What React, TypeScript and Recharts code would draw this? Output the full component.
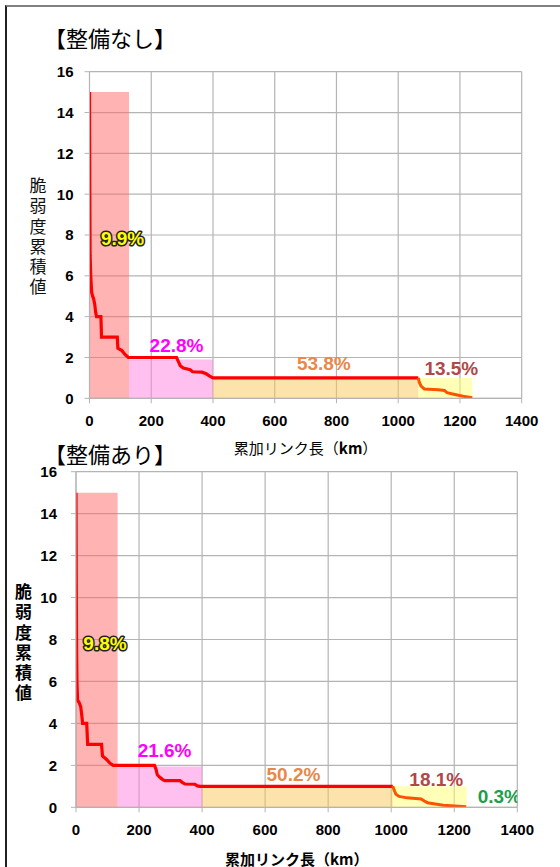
import {
  CartesianGrid,
  ComposedChart,
  Line,
  ReferenceArea,
  Scatter,
  XAxis,
  YAxis,
} from "recharts";

const xTicks = [0, 200, 400, 600, 800, 1000, 1200, 1400];
const yTicks = [0, 2, 4, 6, 8, 10, 12, 14, 16];

// 整備なし
const beforeMain = [
  { x: 0, y: 15 }, { x: 1, y: 10 }, { x: 2, y: 7 }, { x: 4, y: 6 },
  { x: 7, y: 5.2 }, { x: 10, y: 5 }, { x: 13, y: 4.9 }, { x: 17, y: 4.6 },
  { x: 20, y: 4.2 }, { x: 23, y: 4 }, { x: 37, y: 4 }, { x: 39, y: 3 },
  { x: 90, y: 3 }, { x: 92, y: 2.45 }, { x: 104, y: 2.35 }, { x: 115, y: 2.15 },
  { x: 126, y: 2 }, { x: 282, y: 2 }, { x: 288, y: 1.8 }, { x: 294, y: 1.6 },
  { x: 304, y: 1.48 }, { x: 326, y: 1.4 }, { x: 334, y: 1.3 }, { x: 364, y: 1.28 },
  { x: 378, y: 1.2 }, { x: 388, y: 1.1 }, { x: 400, y: 1 }, { x: 1065, y: 1 },
];
const beforeTail = [
  { x: 1065, y: 1 }, { x: 1068, y: 0.8 }, { x: 1074, y: 0.6 }, { x: 1085, y: 0.45 },
  { x: 1130, y: 0.42 }, { x: 1150, y: 0.38 }, { x: 1158, y: 0.28 }, { x: 1180, y: 0.2 },
  { x: 1210, y: 0.1 }, { x: 1240, y: 0.03 },
];
const beforeBands = [
  { x1: 0, x2: 128, y: 15 },
  { x1: 128, x2: 400, y: 1.9 },
  { x1: 400, x2: 1065, y: 1 },
  { x1: 1065, x2: 1240, y: 1 },
];
const beforeLabels = [
  { x: 107, y: 7.85, text: "9.9%" },
  { x: 282, y: 2.58, text: "22.8%" },
  { x: 759, y: 1.71, text: "53.8%" },
  { x: 1172, y: 1.47, text: "13.5%" },
];

// 整備あり
const afterMain = [
  { x: 0, y: 15 }, { x: 1, y: 10 }, { x: 2, y: 7.5 }, { x: 3, y: 6 },
  { x: 5, y: 5.1 }, { x: 10, y: 5 }, { x: 15, y: 4.8 }, { x: 19, y: 4.3 },
  { x: 21, y: 4 }, { x: 34, y: 4 }, { x: 37, y: 3 }, { x: 81, y: 3 },
  { x: 84, y: 2.45 }, { x: 97, y: 2.28 }, { x: 108, y: 2.1 }, { x: 118, y: 2 },
  { x: 249, y: 2 }, { x: 254, y: 1.8 }, { x: 258, y: 1.55 }, { x: 266, y: 1.43 },
  { x: 275, y: 1.32 }, { x: 282, y: 1.27 }, { x: 330, y: 1.27 }, { x: 338, y: 1.18 },
  { x: 346, y: 1.11 }, { x: 377, y: 1.1 }, { x: 385, y: 1.02 }, { x: 393, y: 1 },
  { x: 1005, y: 1 },
];
const afterTail = [
  { x: 1005, y: 1 }, { x: 1010, y: 0.8 }, { x: 1015, y: 0.62 }, { x: 1025, y: 0.52 },
  { x: 1050, y: 0.45 }, { x: 1095, y: 0.4 }, { x: 1105, y: 0.3 }, { x: 1115, y: 0.22 },
  { x: 1165, y: 0.1 }, { x: 1238, y: 0.03 },
];
const afterBands = [
  { x1: 0, x2: 132, y: 15 },
  { x1: 132, x2: 400, y: 1.95 },
  { x1: 400, x2: 1005, y: 1 },
  { x1: 1005, x2: 1240, y: 1 },
];
const afterLabels = [
  { x: 92, y: 7.79, text: "9.8%" },
  { x: 281, y: 2.73, text: "21.6%" },
  { x: 690, y: 1.54, text: "50.2%" },
  { x: 1143, y: 1.31, text: "18.1%" },
  { x: 1343, y: 0.5, text: "0.3%" },
];

const bandColors = ["#ff6868", "#ff80e0", "#fac858", "#ffff70"];
const labelColors = ["#ffff00", "#ff00ff", "#e8884a", "#b04848", "#1e9e4a"];
const gridColor = "#b4b4b4";
const tickFont = {
  fill: "#000",
  fontSize: 15,
  fontWeight: 700,
  fontFamily: "Liberation Sans",
};
const jp = "'Noto Sans CJK JP'";

function PercentLabel(props: any) {
  const { cx, cy, payload } = props;
  const first = payload.i === 0;
  return (
    <text
      x={cx}
      y={cy}
      textAnchor="middle"
      dominantBaseline="central"
      fontFamily="Liberation Sans"
      fontWeight={700}
      fontSize={19}
      fill={labelColors[payload.i]}
      stroke={first ? "#222" : "none"}
      strokeWidth={first ? 3 : 0}
      strokeLinejoin="round"
      paintOrder="stroke"
    >
      {payload.text}
    </text>
  );
}

function Panel({ top, height, margin, main, tail, bands, labels, tickMarginY }: any) {
  return (
    <div style={{ position: "absolute", left: 0, top, width: 560, height }}>
      <ComposedChart width={560} height={height} margin={margin}>
        <CartesianGrid stroke={gridColor} strokeWidth={1.2} />
        <XAxis
          type="number"
          dataKey="x"
          domain={[0, 1400]}
          ticks={xTicks}
          interval={0}
          allowDataOverflow
          height={30}
          tick={tickFont}
          tickSize={5}
          tickMargin={12}
          tickLine={{ stroke: gridColor }}
          axisLine={{ stroke: gridColor }}
        />
        <YAxis
          type="number"
          domain={[0, 16]}
          ticks={yTicks}
          interval={0}
          allowDataOverflow
          width={50}
          tick={tickFont}
          tickSize={5}
          tickMargin={tickMarginY}
          tickLine={{ stroke: gridColor }}
          axisLine={{ stroke: gridColor }}
        />
        {bands.map((b: any, i: number) => (
          <ReferenceArea
            key={i}
            x1={b.x1}
            x2={b.x2}
            y1={0}
            y2={b.y}
            fill={bandColors[i]}
            fillOpacity={0.5}
            stroke="none"
            ifOverflow="visible"
          />
        ))}
        <Line
          data={main}
          dataKey="y"
          type="linear"
          stroke="#ff0000"
          strokeWidth={3.2}
          dot={false}
          activeDot={false}
          isAnimationActive={false}
        />
        <Line
          data={tail}
          dataKey="y"
          type="linear"
          stroke="#ff5200"
          strokeWidth={3}
          dot={false}
          activeDot={false}
          isAnimationActive={false}
        />
        <Scatter
          data={labels.map((d: any, i: number) => ({ ...d, i }))}
          dataKey="y"
          shape={PercentLabel}
          isAnimationActive={false}
        />
      </ComposedChart>
    </div>
  );
}

export default function App() {
  return (
    <div
      style={{
        position: "absolute",
        left: 0,
        top: 0,
        width: 560,
        height: 867,
        overflow: "hidden",
        background: "#fff",
      }}
    >
      <div
        style={{
          position: "absolute",
          left: 5,
          top: 5,
          width: 700,
          height: 1000,
          borderLeft: "2px solid #222",
          borderTop: "2px solid #808080",
        }}
      />
      <Panel
        top={0}
        height={470}
        margin={{ top: 71.7, right: 38.3, bottom: 41.7, left: 39.5 }}
        main={beforeMain}
        tail={beforeTail}
        bands={beforeBands}
        labels={beforeLabels}
        tickMarginY={11}
      />
      <Panel
        top={430}
        height={437}
        margin={{ top: 41.7, right: 42.7, bottom: 29.7, left: 26 }}
        main={afterMain}
        tail={afterTail}
        bands={afterBands}
        labels={afterLabels}
        tickMarginY={14}
      />
      <svg
        width={560}
        height={867}
        style={{ position: "absolute", left: 0, top: 0, pointerEvents: "none" }}
      >
        <text x={44} y={37} dominantBaseline="central" fontFamily={jp} fontSize={22} fill="#000">
          【整備なし】
        </text>
        <text x={44} y={453} dominantBaseline="central" fontFamily={jp} fontSize={22} fill="#000">
          【整備あり】
        </text>
        <text
          x={38}
          y={177}
          style={{ writingMode: "vertical-rl" }}
          fontFamily={jp}
          fontSize={17}
          letterSpacing={3.3}
          fill="#111"
        >
          脆弱度累積値
        </text>
        <text
          x={23.5}
          y={583}
          style={{ writingMode: "vertical-rl" }}
          fontFamily={jp}
          fontSize={17}
          fontWeight={700}
          letterSpacing={3.3}
          fill="#000"
        >
          脆弱度累積値
        </text>
        <text x={305.6} y={447} textAnchor="middle" dominantBaseline="central" fontFamily={jp} fontSize={15} fill="#000">
          累加リンク長（<tspan fontWeight={700}>km</tspan>）
        </text>
        <text x={296.7} y={858} textAnchor="middle" dominantBaseline="central" fontFamily={jp} fontSize={15} fontWeight={700} fill="#000">
          累加リンク長（km）
        </text>
      </svg>
    </div>
  );
}
